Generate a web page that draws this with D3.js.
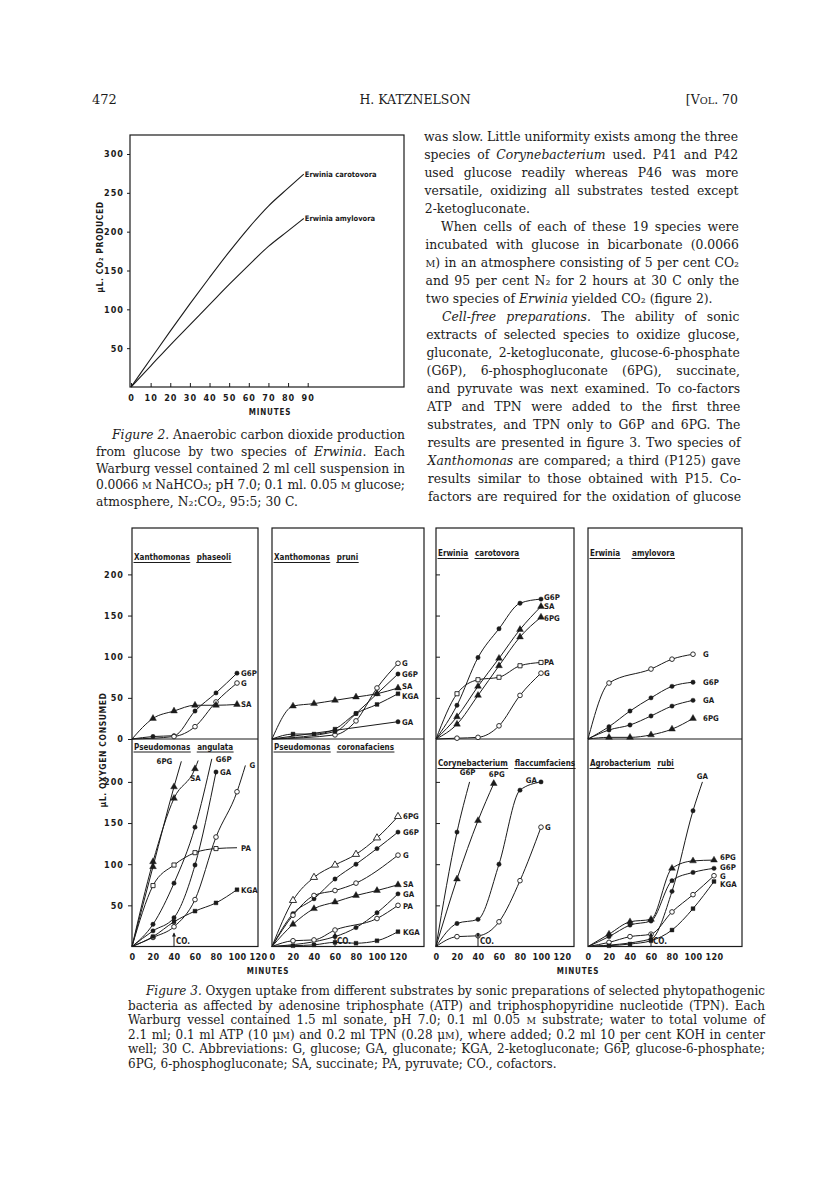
<!DOCTYPE html>
<html>
<head>
<meta charset="utf-8">
<title>Katznelson, p. 472</title>
<script src="https://cdn.jsdelivr.net/npm/d3@7"></script>
<style>
  body { margin: 0; background: #fff; }
  svg { display: block; }
  .serif { font-family: "DejaVu Serif", serif; fill: #1b1b1b; }
</style>
</head>
<body>
<svg width="816" height="1188"></svg>
<script>
// ---------- figure 2 : CO2 produced (ul) against minutes ----------
var fig2Minutes = [0, 10, 20, 30, 40, 50, 60, 70, 80, 88];
var carotovoraCO2 = [0, 36, 72, 107, 141, 174, 205, 233, 256, 274];
var amylovoraCO2 = [0, 27, 54, 80, 106, 132, 157, 181, 201, 217];
var fig2XTicks = [0, 10, 20, 30, 40, 50, 60, 70, 80, 90];
var fig2YTicks = [50, 100, 150, 200, 250, 300];

// ---------- figure 3 : O2 consumed (ul) against minutes, one array per panel ----------
var xPhaseoli = [
  { sub: "G6P", mark: "dot", pts: [[20, 3], [40, 4], [60, 34], [80, 56], [100, 80]] },
  { sub: "G", mark: "circle", pts: [[40, 3], [60, 15], [80, 45], [100, 68]] },
  { sub: "SA", mark: "tri", pts: [[20, 25], [40, 34], [60, 41], [80, 41], [100, 42]] }
];
var xPruni = [
  { sub: "G", mark: "circle", pts: [[60, 5], [80, 22], [100, 62], [120, 92]] },
  { sub: "G6P", mark: "dot", pts: [[60, 9], [80, 31], [100, 55], [120, 79]] },
  { sub: "SA", mark: "tri", pts: [[20, 40], [40, 43], [60, 47], [80, 51], [100, 55], [120, 62]] },
  { sub: "KGA", mark: "sq", pts: [[20, 6], [40, 6], [60, 12], [80, 31], [100, 42], [120, 55]] },
  { sub: "GA", mark: "dot", pts: [[120, 21]] }
];
var eCarotovora = [
  { sub: "G6P", mark: "dot", pts: [[20, 41], [40, 99], [60, 134], [80, 165], [100, 170]] },
  { sub: "SA", mark: "tri", pts: [[20, 27], [40, 64], [60, 98], [80, 133], [100, 161]] },
  { sub: "6PG", mark: "tri", pts: [[20, 18], [40, 53], [60, 89], [80, 124], [100, 148]] },
  { sub: "PA", mark: "osq", pts: [[20, 55], [40, 72], [60, 75], [80, 89], [100, 93]] },
  { sub: "G", mark: "circle", pts: [[20, 1], [40, 2], [60, 16], [80, 53], [100, 80]] }
];
var eAmylovora = [
  { sub: "G", mark: "circle", pts: [[20, 68], [60, 85], [80, 97], [100, 103]] },
  { sub: "G6P", mark: "dot", pts: [[20, 15], [40, 34], [60, 50], [80, 64], [100, 69]] },
  { sub: "GA", mark: "dot", pts: [[20, 11], [40, 17], [60, 28], [80, 40], [100, 47]] },
  { sub: "6PG", mark: "tri", pts: [[20, 2], [40, 2], [60, 5], [80, 12], [100, 25]] }
];
var pAngulata = [
  { sub: "6PG", mark: "tri", pts: [[20, 97], [40, 194]], tail: [47, 225] },
  { sub: "SA", mark: "tri", pts: [[20, 103], [40, 180], [60, 216]], tail: [63, 226] },
  { sub: "G6P", mark: "dot", pts: [[20, 27], [40, 77], [60, 145]], tail: [76, 228] },
  { sub: "GA", mark: "dot", pts: [[20, 19], [40, 35], [60, 99], [80, 212]] },
  { sub: "G", mark: "circle", pts: [[20, 11], [40, 24], [60, 57], [80, 133], [100, 188]], tail: [108, 220] },
  { sub: "PA", mark: "osq", pts: [[20, 74], [40, 99], [60, 114], [80, 119]], tail: [100, 120] },
  { sub: "KGA", mark: "sq", pts: [[20, 12], [40, 30], [60, 43], [80, 53], [100, 69]] }
];
var pCoronafaciens = [
  { sub: "6PG", mark: "otri", pts: [[20, 56], [40, 84], [60, 99], [80, 112], [100, 132], [120, 158]] },
  { sub: "G6P", mark: "dot", pts: [[20, 40], [40, 58], [60, 82], [80, 100], [100, 119], [120, 139]] },
  { sub: "G", mark: "circle", pts: [[20, 38], [40, 62], [60, 68], [80, 77], [120, 111]] },
  { sub: "SA", mark: "tri", pts: [[20, 27], [40, 46], [60, 54], [80, 62], [100, 68], [120, 75]] },
  { sub: "GA", mark: "dot", pts: [[60, 12], [80, 23], [100, 41], [120, 64]] },
  { sub: "PA", mark: "circle", pts: [[20, 7], [40, 8], [60, 20], [100, 34], [120, 50]] },
  { sub: "KGA", mark: "sq", pts: [[20, 1], [40, 2], [60, 5], [80, 4], [100, 7], [120, 18]] }
];
var cFlaccumfaciens = [
  { sub: "G6P", mark: "dot", pts: [[20, 139]], tail: [32, 200] },
  { sub: "6PG", mark: "tri", pts: [[20, 82], [40, 153], [55, 198]] },
  { sub: "GA", mark: "dot", pts: [[20, 28], [40, 33], [60, 100], [80, 190], [100, 200]] },
  { sub: "G", mark: "circle", pts: [[20, 12], [40, 13], [60, 30], [80, 80], [100, 145]] }
];
var aRubi = [
  { sub: "GA", mark: "dot", pts: [[60, 9], [80, 67], [100, 165]], tail: [109, 200] },
  { sub: "6PG", mark: "tri", pts: [[20, 15], [40, 30], [60, 33], [80, 95], [100, 104], [120, 105]] },
  { sub: "G6P", mark: "dot", pts: [[20, 12], [40, 26], [60, 31], [80, 80], [100, 90], [120, 95]] },
  { sub: "G", mark: "circle", pts: [[20, 5], [40, 12], [60, 15], [80, 42], [100, 63], [120, 86]] },
  { sub: "KGA", mark: "sq", pts: [[20, 1], [40, 3], [60, 7], [80, 20], [100, 46], [120, 79]] }
];

var panelTitles = ["Xanthomonas phaseoli", "Xanthomonas pruni", "Erwinia carotovora", "Erwinia amylovora",
  "Pseudomonas angulata", "Pseudomonas coronafaciens", "Corynebacterium flaccumfaciens", "Agrobacterium rubi"];
var panelSeries = [xPhaseoli, xPruni, eCarotovora, eAmylovora, pAngulata, pCoronafaciens, cFlaccumfaciens, aRubi];
var coMinute = [null, null, null, null, 40, 60, 40, 60];
var fig3XTicks = [0, 20, 40, 60, 80, 100, 120];
var fig3YTicksTop = [0, 50, 100, 150, 200];
var fig3YTicksBottom = [50, 100, 150, 200];

// ---------- page text ----------
var bodyLines = [
  "was slow. Little uniformity exists among the three",
  "species of *Corynebacterium* used. P41 and P42",
  "used glucose readily whereas P46 was more",
  "versatile, oxidizing all substrates tested except",
  "2-ketogluconate.",
  "When cells of each of these 19 species were",
  "incubated with glucose in bicarbonate (0.0066",
  "{M}) in an atmosphere consisting of 5 per cent CO\u2082",
  "and 95 per cent N\u2082 for 2 hours at 30 C only the",
  "two species of *Erwinia* yielded CO\u2082 (figure 2).",
  "*Cell-free preparations*. The ability of sonic",
  "extracts of selected species to oxidize glucose,",
  "gluconate, 2-ketogluconate, glucose-6-phosphate",
  "(G6P), 6-phosphogluconate (6PG), succinate,",
  "and pyruvate was next examined. To co-factors",
  "ATP and TPN were added to the first three",
  "substrates, and TPN only to G6P and 6PG. The",
  "results are presented in figure 3. Two species of",
  "*Xanthomonas* are compared; a third (P125) gave",
  "results similar to those obtained with P15. Co-",
  "factors are required for the oxidation of glucose"
];
var fig2Caption = [
  "*Figure 2.* Anaerobic carbon dioxide production",
  "from glucose by two species of *Erwinia*. Each",
  "Warburg vessel contained 2 ml cell suspension in",
  "0.0066 {M} NaHCO\u2083; pH 7.0; 0.1 ml. 0.05 {M} glucose;",
  "atmosphere, N\u2082:CO\u2082, 95:5; 30 C."
];
var fig3Caption = [
  "*Figure 3.* Oxygen uptake from different substrates by sonic preparations of selected phytopathogenic",
  "bacteria as affected by adenosine triphosphate (ATP) and triphosphopyridine nucleotide (TPN). Each",
  "Warburg vessel contained 1.5 ml sonate, pH 7.0; 0.1 ml 0.05 {M} substrate; water to total volume of",
  "2.1 ml; 0.1 ml ATP (10 \u03bc{M}) and 0.2 ml TPN (0.28 \u03bc{M}), where added; 0.2 ml 10 per cent KOH in center",
  "well; 30 C. Abbreviations: G, glucose; GA, gluconate; KGA, 2-ketogluconate; G6P, glucose-6-phosphate;",
  "6PG, 6-phosphogluconate; SA, succinate; PA, pyruvate; CO., cofactors."
];

var ink = "#1b1b1b";
var labFont = "'DejaVu Sans Condensed', 'Liberation Sans Narrow', 'DejaVu Sans', sans-serif";
var svg = d3.select("svg");

// one line of running text; "*..*" italic, "{..}" small capitals, optional justification
function textLine(str, x0, x1, y, size, justify) {
  var t = svg.append("text").attr("class", "serif").attr("x", x0).attr("y", y).attr("font-size", size);
  str.split(/(\*[^*]+\*|\{[^}]+\})/).forEach(function(s) {
    if (!s) return;
    if (s.charAt(0) === "*") t.append("tspan").attr("font-style", "italic").text(s.slice(1, -1));
    else if (s.charAt(0) === "{") t.append("tspan").attr("font-size", size * 0.78).text(s.slice(1, -1));
    else t.append("tspan").text(s);
  });
  if (justify) {
    var gaps = str.split(" ").length - 1;
    var free = x1 - x0 - t.node().getComputedTextLength();
    if (free >= 0 && gaps > 0) t.attr("word-spacing", free / gaps);
    else if (free < 0) t.attr("textLength", x1 - x0).attr("lengthAdjust", "spacing");
  }
  return t;
}

function styleAxis(a, size) {
  a.select(".domain").remove();
  a.attr("font-family", labFont).attr("font-size", size).attr("font-weight", "bold");
  a.selectAll("line").attr("stroke", ink).attr("stroke-width", 1);
  a.selectAll("text").attr("fill", ink).attr("letter-spacing", 1);
}

function boldLabel(x, y, txt, size, anchor) {
  return svg.append("text").attr("x", x).attr("y", y)
    .attr("font-family", labFont).attr("font-weight", "bold").attr("font-size", size)
    .attr("fill", ink).attr("text-anchor", anchor || "start").text(txt);
}

// ---------- running head ----------
textLine("472", 92, 0, 104, 13, false);
textLine("H. KATZNELSON", 0, 0, 104, 12.5, false).attr("x", 415).attr("text-anchor", "middle");
textLine("[V{OL}. 70", 0, 0, 104, 12.5, false).attr("x", 738).attr("text-anchor", "end");

// ---------- figure 2 ----------
var f2x = d3.scaleLinear().domain([0, 90]).range([131, 307.7]);
var f2y = d3.scaleLinear().domain([0, 300]).range([387, 154]);

svg.append("rect").attr("x", 130).attr("y", 135).attr("width", 274).attr("height", 252)
  .attr("fill", "none").attr("stroke", ink).attr("stroke-width", 1.2);

var f2yAxis = svg.append("g").attr("transform", "translate(130,0)")
  .call(d3.axisLeft(f2y).tickValues(fig2YTicks).tickSize(3).tickPadding(3));
var f2xAxis = svg.append("g").attr("transform", "translate(0,387)")
  .call(d3.axisBottom(f2x).tickValues(fig2XTicks).tickSize(-4).tickPadding(8));
styleAxis(f2yAxis, 9);
styleAxis(f2xAxis, 9);

var f2line = d3.line()
  .x(function(d) { return f2x(d[0]); })
  .y(function(d) { return f2y(d[1]); })
  .curve(d3.curveMonotoneX);

[[carotovoraCO2, "Erwinia carotovora"], [amylovoraCO2, "Erwinia amylovora"]].forEach(function(c) {
  var pts = d3.zip(fig2Minutes, c[0]);
  svg.append("path").attr("d", f2line(pts)).attr("fill", "none").attr("stroke", ink).attr("stroke-width", 1.1);
  var end = pts[pts.length - 1];
  boldLabel(f2x(end[0]) + 1, f2y(end[1]) + 3, c[1], 7.5);
});

boldLabel(270, 415, "MINUTES", 8, "middle").attr("letter-spacing", 0.8);
boldLabel(0, 0, "\u03bcL. CO\u2082 PRODUCED", 8.5, "middle")
  .attr("transform", "translate(103,247) rotate(-90)").attr("letter-spacing", 0.6);

fig2Caption.forEach(function(s, i) {
  var x0 = i === 0 ? 112 : 96;
  textLine(s, x0, 405, 439 + i * 16.8, 12.3, i < fig2Caption.length - 1);
});

// ---------- body text, right column ----------
var paraEnd = [4, 9], paraStart = [5, 10];
bodyLines.forEach(function(s, i) {
  var x0 = 424 + i * 0.2, x1 = 738 + i * 0.15;
  if (paraStart.indexOf(i) >= 0) x0 += 16;
  textLine(s, x0, x1, 141 + i * 18, 12.4, paraEnd.indexOf(i) < 0);
});

// ---------- figure 3 ----------
var colLeft = [132, 272, 436, 588], colRight = [258, 424, 574, 742];
var rowZero = [739, 946.5];
var boxTop = 528;
var titleBase = [[560, 560, 556, 556], [749.5, 749.5, 766, 766]];

// label placement that differs from "just right of the line end"
var labelNudge = {
  "1:SA": { dy: -2 }, "1:KGA": { dy: 2 },
  "2:G6P": { dy: -2 }, "2:6PG": { dy: 1 },
  "4:6PG": { dx: -9, dy: 0, anchor: "end" },
  "4:SA": { dx: -8, dy: 17 },
  "5:SA": { dy: -1 }, "5:PA": { dy: 1 },
  "6:G6P": { dx: -2, dy: -10, anchor: "middle" },
  "6:6PG": { dx: 3, dy: -10, anchor: "middle" },
  "6:GA": { dx: -4, dy: -2, anchor: "end" },
  "7:GA": { dx: 0, dy: -6, anchor: "middle" },
  "7:6PG": { dy: -3 }, "7:G6P": { dy: -1 }, "7:KGA": { dy: 3 }
};
var panelDx = [4, 4, 3, 10, 4, 5, 4, 6];

colLeft.forEach(function(l, c) {
  svg.append("rect").attr("x", l).attr("y", boxTop).attr("width", colRight[c] - l).attr("height", rowZero[1] - boxTop)
    .attr("fill", "none").attr("stroke", ink).attr("stroke-width", 1.2);
  svg.append("line").attr("x1", l).attr("x2", colRight[c]).attr("y1", rowZero[0]).attr("y2", rowZero[0])
    .attr("stroke", ink).attr("stroke-width", 1.2);
});

function marker(g, kind, cx, cy) {
  var types = { dot: d3.symbolCircle, circle: d3.symbolCircle, tri: d3.symbolTriangle, otri: d3.symbolTriangle, sq: d3.symbolSquare, osq: d3.symbolSquare };
  var sizes = { dot: 15, circle: 17, tri: 20, otri: 22, sq: 15, osq: 17 };
  var open = kind === "circle" || kind === "otri" || kind === "osq";
  g.append("path").attr("transform", "translate(" + cx + "," + cy + ")")
    .attr("d", d3.symbol().type(types[kind]).size(sizes[kind])())
    .attr("fill", open ? "#fff" : ink).attr("stroke", ink).attr("stroke-width", open ? 0.9 : 0.4);
}

panelSeries.forEach(function(series, i) {
  var row = i < 4 ? 0 : 1, col = i % 4;
  var x = d3.scaleLinear().domain([0, 120]).range([colLeft[col], colLeft[col] + 126]);
  var y = d3.scaleLinear().domain([0, 200]).range([rowZero[row], rowZero[row] - 164.6]);
  var g = svg.append("g");

  // title, each word underlined
  var cx = colLeft[col] + 2, ty = titleBase[row][col];
  panelTitles[i].split(" ").forEach(function(w) {
    var t = g.append("text").attr("x", cx).attr("y", ty).attr("font-family", labFont)
      .attr("font-weight", "bold").attr("font-size", 8).attr("fill", ink).text(w);
    var wd = t.node().getComputedTextLength();
    g.append("line").attr("x1", cx - 0.5).attr("x2", cx + wd + 0.5).attr("y1", ty + 2.5).attr("y2", ty + 2.5)
      .attr("stroke", ink).attr("stroke-width", 1);
    cx += wd + (i === 3 ? 12 : 7);
  });

  // axes
  if (col === 0) {
    var ya = g.append("g").attr("transform", "translate(" + colLeft[col] + ",0)")
      .call(d3.axisLeft(y).tickValues(row === 0 ? fig3YTicksTop : fig3YTicksBottom).tickSize(4).tickPadding(4));
    styleAxis(ya, 9);
  }
  if (col === 2) {
    var yb = g.append("g").attr("transform", "translate(" + colLeft[col] + ",0)")
      .call(d3.axisLeft(y).tickValues([50, 100, 150, 200]).tickSize(-4).tickFormat(""));
    styleAxis(yb, 9);
  }
  if (row === 1) {
    var xa = g.append("g").attr("transform", "translate(0," + rowZero[1] + ")")
      .call(d3.axisBottom(x).tickValues(fig3XTicks).tickSize(0).tickPadding(7));
    styleAxis(xa, 9);
    xa.selectAll("text").attr("letter-spacing", 0.4);
  }

  var line = d3.line()
    .x(function(d) { return x(d[0]); })
    .y(function(d) { return y(d[1]); })
    .curve(d3.curveMonotoneX);

  series.forEach(function(s) {
    var pts = [[0, 0]].concat(s.pts, s.tail ? [s.tail] : []);
    g.append("path").attr("d", line(pts)).attr("fill", "none").attr("stroke", ink).attr("stroke-width", 1);
    s.pts.forEach(function(p) { marker(g, s.mark, x(p[0]), y(p[1])); });
    var end = pts[pts.length - 1];
    var nud = labelNudge[i + ":" + s.sub] || {};
    var dx = nud.dx != null ? nud.dx : panelDx[i];
    g.append("text").attr("x", x(end[0]) + dx).attr("y", y(end[1]) + 3 + (nud.dy || 0))
      .attr("text-anchor", nud.anchor || "start")
      .attr("font-family", labFont).attr("font-weight", "bold").attr("font-size", 7.8).attr("fill", ink)
      .text(s.sub);
  });

  // cofactor arrow
  if (coMinute[i] != null) {
    var ax = x(coMinute[i]);
    g.append("line").attr("x1", ax).attr("x2", ax).attr("y1", y(0)).attr("y2", y(16))
      .attr("stroke", ink).attr("stroke-width", 1);
    g.append("path").attr("d", "M" + (ax - 2) + "," + (y(12)) + "L" + ax + "," + y(17) + "L" + (ax + 2) + "," + y(12) + "Z")
      .attr("fill", ink);
    g.append("text").attr("x", ax + 2).attr("y", y(3)).attr("font-family", labFont).attr("font-weight", "bold")
      .attr("font-size", 8).attr("fill", ink).text("CO.");
  }
});

boldLabel(268, 974, "MINUTES", 8, "middle").attr("letter-spacing", 0.8);
boldLabel(578, 974, "MINUTES", 8, "middle").attr("letter-spacing", 0.8);
boldLabel(0, 0, "\u03bcL. OXYGEN CONSUMED", 8.5, "middle")
  .attr("transform", "translate(106,750) rotate(-90)").attr("letter-spacing", 0.6);

fig3Caption.forEach(function(s, i) {
  var x0 = i === 0 ? 146 : 128;
  textLine(s, x0, 765, 995 + i * 14.5, 12, i < fig3Caption.length - 1);
});
</script>
</body>
</html>
